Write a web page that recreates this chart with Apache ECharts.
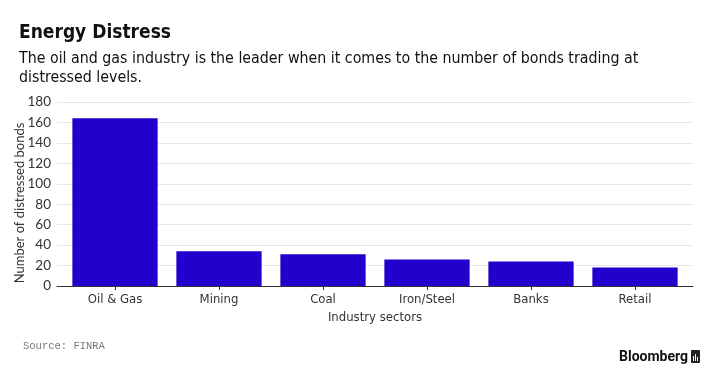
<!DOCTYPE html>
<html><head><meta charset="utf-8">
<script src="https://cdn.jsdelivr.net/npm/echarts@6/dist/echarts.min.js"></script>
<style>html,body{margin:0;padding:0;background:#fff}#c{width:720px;height:380px}</style>
</head><body><div id="c"></div>
<script>
const categories = ['Oil & Gas', 'Mining', 'Coal', 'Iron/Steel', 'Banks', 'Retail'];
const distressedBonds = [164, 34, 31, 26, 24, 18];
const yTicks = [0, 20, 40, 60, 80, 100, 120, 140, 160, 180];

const chart = echarts.init(document.getElementById('c'), null, {renderer: 'canvas'});
const cond = '"DejaVu Sans Condensed", "DejaVu Sans", sans-serif';
chart.setOption({
  animation: false,
  backgroundColor: '#ffffff',
  title: [
    {text: 'Energy Distress', left: 14, top: 19,
     textStyle: {fontFamily: cond, fontWeight: 'bold', fontSize: 19, color: '#111'}},
    {text: 'The oil and gas industry is the leader when it comes to the number of bonds trading at\ndistressed levels.',
     left: 14, top: 44,
     textStyle: {fontFamily: cond, fontWeight: 'normal', fontSize: 15.8, lineHeight: 19, color: '#111'}}
  ],
  grid: [
    {left: 57, right: 27, top: 102, bottom: 94, containLabel: false, outerBoundsMode: 'none'},
    {left: 63, right: 33, top: 102, bottom: 94, containLabel: false, outerBoundsMode: 'none'}
  ],
  xAxis: [
    {type: 'category', gridIndex: 0, data: categories,
     axisLine: {lineStyle: {color: '#333', width: 1}},
     axisTick: {show: false}, axisLabel: {show: false}, splitLine: {show: false}},
    {type: 'category', gridIndex: 1, data: categories,
     name: 'Industry sectors', nameLocation: 'middle', nameGap: 25,
     nameTextStyle: {fontFamily: cond, fontSize: 13, color: '#333'},
     axisLine: {show: false},
     axisTick: {show: true, alignWithLabel: true, length: 4, lineStyle: {color: '#333'}},
     axisLabel: {fontFamily: cond, fontSize: 13, color: '#333', margin: 7},
     splitLine: {show: false}}
  ],
  yAxis: [
    {type: 'value', gridIndex: 0, min: 0, max: 180, interval: 20,
     axisLine: {show: false}, axisTick: {show: false},
     axisLabel: {fontFamily: 'Lato, sans-serif', fontSize: 13.5, color: '#333', margin: 6,
       formatter: v => yTicks.includes(v) ? String(v) : ''},
     splitLine: {lineStyle: {color: '#e8e8e8', width: 1}}},
    {type: 'value', gridIndex: 1, min: 0, max: 180, interval: 20,
     axisLine: {show: false}, axisTick: {show: false}, axisLabel: {show: false},
     splitLine: {show: false}}
  ],
  series: [{
    type: 'bar', xAxisIndex: 1, yAxisIndex: 1, data: distressedBonds, barCategoryGap: '18%',
    itemStyle: {color: '#2300CC'}
  }],
  graphic: [
    {type: 'text', x: 20, y: 203, rotation: Math.PI / 2,
     style: {text: 'Number of distressed bonds', font: '13px Lato, sans-serif', fill: '#333',
       align: 'center', verticalAlign: 'middle'}},
    {type: 'text', left: 23, top: 341,
     style: {text: 'Source: FINRA', font: '10.5px "Liberation Mono", monospace', fill: '#777'}},
    {type: 'text', x: 688, y: 357,
     style: {text: 'Bloomberg', font: 'bold 14px Roboto, sans-serif', fill: '#111',
       align: 'right', verticalAlign: 'middle'}},
    {type: 'rect', x: 691, y: 350, shape: {width: 9, height: 13, r: 1}, style: {fill: '#222'}},
    {type: 'rect', x: 693, y: 356, shape: {width: 1, height: 5}, style: {fill: '#fff'}},
    {type: 'rect', x: 695, y: 354, shape: {width: 1, height: 7}, style: {fill: '#fff'}},
    {type: 'rect', x: 697, y: 357, shape: {width: 1, height: 4}, style: {fill: '#fff'}}
  ]
});
</script></body></html>
